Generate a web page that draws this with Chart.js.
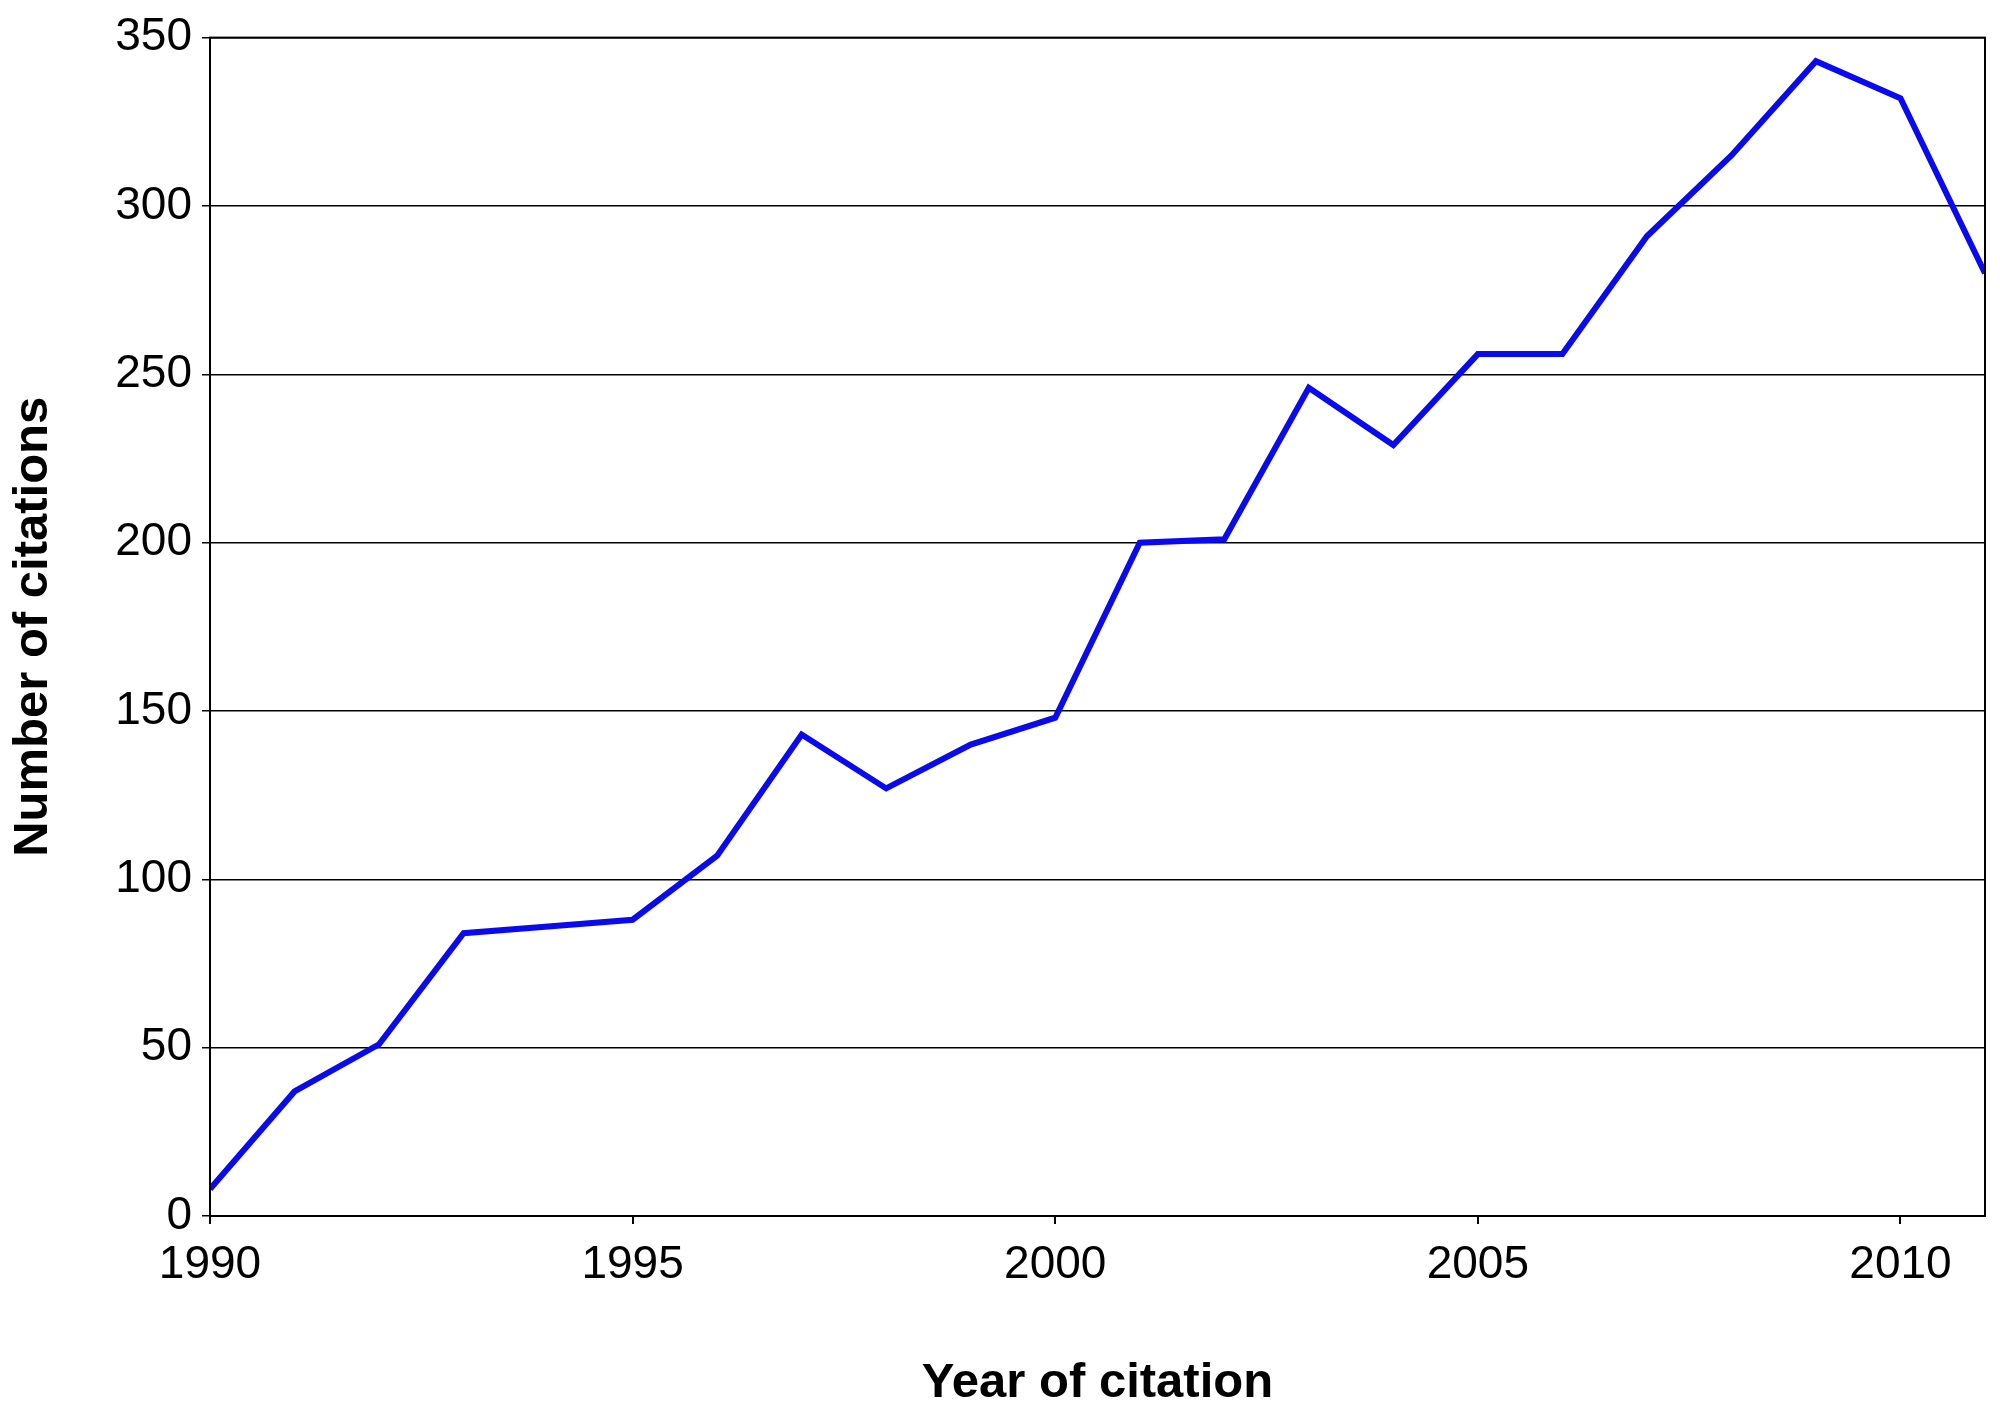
<!DOCTYPE html>
<html>
<head>
<meta charset="utf-8">
<script src="https://cdn.jsdelivr.net/npm/chart.js@4"></script>
<style>
  html, body { margin: 0; padding: 0; background: #fff; }
</style>
</head>
<body>
<canvas id="c" width="2000" height="1415"></canvas>
<script>
const years = [1990, 1991, 1992, 1993, 1994, 1995, 1996, 1997, 1998, 1999, 2000,
    2001, 2002, 2003, 2004, 2005, 2006, 2007, 2008, 2009, 2010, 2011];
const citations = [8, 37, 51, 84, 86, 88, 107, 143, 127, 140, 148,
    200, 201, 246, 229, 256, 256, 291, 315, 343, 332, 280];
const xTicks = [1990, 1995, 2000, 2005, 2010];

const FONT = '"Liberation Sans", Arial, sans-serif';

// frame around the plot area
const frame = {
    id: 'frame',
    afterDraw(chart) {
        const { ctx, chartArea: a } = chart;
        ctx.save();
        ctx.strokeStyle = '#000';
        ctx.lineWidth = 2;
        ctx.strokeRect(a.left, a.top, a.right - a.left, a.bottom - a.top);
        ctx.restore();
    },
};

new Chart(document.getElementById('c'), {
    type: 'scatter',
    data: {
        datasets: [{
            data: years.map((y, i) => ({ x: y, y: citations[i] })),
            showLine: true,
            borderColor: '#0a0af0',
            borderWidth: 6,
            pointRadius: 0,
            tension: 0,
        }],
    },
    options: {
        responsive: false,
        animation: false,
        layout: { padding: { top: 32, right: 15, bottom: 0, left: 0 } },
        plugins: { legend: { display: false }, tooltip: { enabled: false } },
        scales: {
            x: {
                type: 'linear',
                min: 1990,
                max: 2011,
                afterBuildTicks: (s) => { s.ticks = xTicks.map((v) => ({ value: v })); },
                afterFit: (s) => { s.height = 199; },
                grid: { drawOnChartArea: false, tickLength: 8, color: '#000', lineWidth: 2 },
                border: { color: '#000', width: 2 },
                ticks: {
                    color: '#000',
                    font: { family: FONT, size: 46 },
                    padding: 14,
                    maxRotation: 0,
                    callback: (v) => String(v),
                },
                title: {
                    display: true,
                    text: 'Year of citation',
                    color: '#000',
                    font: { family: FONT, size: 49, weight: 'bold' },
                    padding: { top: 0, bottom: 2 },
                },
            },
            y: {
                min: 0,
                max: 350,
                ticks: { stepSize: 50, color: '#000', font: { family: FONT, size: 46 }, padding: 10 },
                afterFit: (s) => { s.width = 210; },
                grid: { color: '#000', lineWidth: 1.5, tickLength: 8 },
                border: { color: '#000', width: 2 },
                title: {
                    display: true,
                    text: 'Number of citations',
                    color: '#000',
                    font: { family: FONT, size: 49, weight: 'bold' },
                    padding: { top: 4, bottom: 0 },
                },
            },
        },
    },
    plugins: [frame],
});
</script>
</body>
</html>
